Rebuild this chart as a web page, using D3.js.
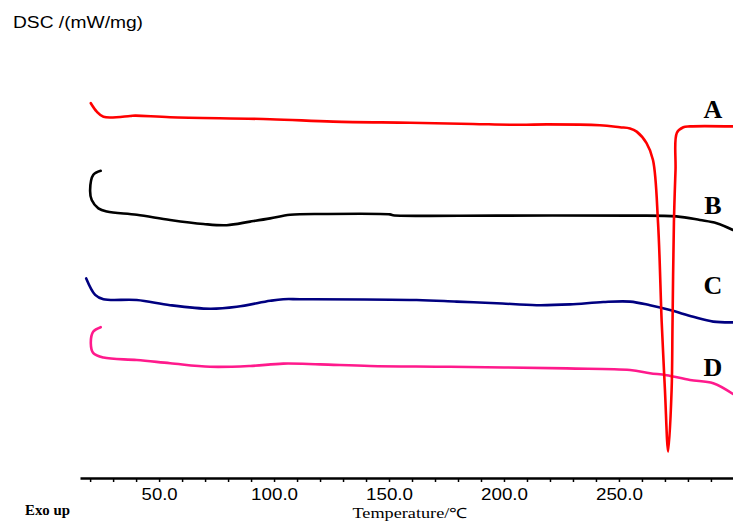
<!DOCTYPE html>
<html lang="en">

<head>
  <meta charset="UTF-8">
  <title>DSC</title>
  <style>
    body { margin: 0; background: #fff; }
  </style>
</head>

<body>

  <script src="https://cdn.jsdelivr.net/npm/d3@7/dist/d3.min.js"></script>
  <script>

    let width = 733
    let height = 521

    // temperature (°C) and heat flow (arbitrary offset units)
    let tempA = [20.3, 22.9, 25.8, 37.4, 39.6, 54.8, 98.3, 125.7, 159.1, 186.5, 207, 218.7, 241.7, 250.4, 254.8, 257.7, 262, 264.8, 267, 268.6, 270, 271.4, 272.9, 273.3, 273.9, 274.6, 275.2, 278, 280.9, 299.6]
    let dscA = [9.42, 9.21, 9.08, 9.10, 9.11, 9.07, 9.02, 8.96, 8.93, 8.90, 8.88, 8.89, 8.87, 8.82, 8.79, 8.71, 8.42, 8.0, 6.43, 3.93, 2.25, 0.71, 2.25, 3.93, 6.43, 7.75, 8.68, 8.82, 8.84, 8.84]

    let tempB = [24.6, 21.4, 20, 20.7, 23.6, 27.3, 40.3, 54.8, 69.3, 79.4, 89.6, 98.3, 107, 121.4, 150.4, 151.7, 198, 254.8, 275, 285.2, 292.5, 299.6]
    let dscB = [7.73, 7.63, 7.25, 7.0, 6.79, 6.71, 6.63, 6.5, 6.4, 6.37, 6.46, 6.54, 6.63, 6.65, 6.64, 6.62, 6.61, 6.61, 6.59, 6.5, 6.42, 6.25]

    let tempC = [18.3, 22.2, 25.8, 40.3, 54.8, 72.2, 83.8, 98.3, 104, 111.3, 162, 179.4, 196.8, 214.2, 228.7, 243.2, 254.8, 263.5, 272.2, 282.3, 291, 299.6]
    let dscC = [5.04, 4.63, 4.52, 4.5, 4.37, 4.28, 4.33, 4.48, 4.52, 4.52, 4.5, 4.46, 4.42, 4.37, 4.39, 4.45, 4.46, 4.37, 4.25, 4.08, 3.96, 3.94]

    let tempD = [24.6, 21.4, 20.3, 21.4, 25.8, 40.3, 54.8, 72.2, 89.6, 104, 120, 141.7, 176.5, 227.3, 254.8, 263.5, 270.7, 280.9, 291, 299.6]
    let dscD = [3.82, 3.71, 3.42, 3.17, 3.06, 3.0, 2.92, 2.83, 2.85, 2.91, 2.89, 2.85, 2.83, 2.79, 2.75, 2.67, 2.62, 2.5, 2.42, 2.15]

    let seriesNames = ['D', 'C', 'B', 'A']
    let seriesColors = ['#ff1a8c', '#000080', '#000000', '#ff0000']
    let seriesTemps = [tempD, tempC, tempB, tempA]
    let seriesDsc = [dscD, dscC, dscB, dscA]

    let tickValues = d3.range(20, 300, 10)

    let x = d3.scaleLinear()
      .domain([15.6, 299.6])
      .range([80, 733])

    let y = d3.scaleLinear()
      .domain([0, 11])
      .range([480, 40])

    let svg = d3.select('body')
      .append('svg')
      .attr('width', width)
      .attr('height', height)

    let line = d3.line()
      .x(d => x(d[0]))
      .y(d => y(d[1]))
      .curve(d3.curveCatmullRom.alpha(0.5))

    seriesNames.forEach((name, i) => {
      let pts = seriesTemps[i].map((t, j) => [t, seriesDsc[i][j]])
      svg.append('path')
        .datum(pts)
        .attr('d', line)
        .attr('fill', 'none')
        .attr('stroke', seriesColors[i])
        .attr('stroke-width', 2.6)
        .attr('stroke-linejoin', 'round')
        .attr('stroke-linecap', 'round')
    })

    // curve labels at the right end
    let labelY = { A: 118, B: 214, C: 294, D: 376 }
    seriesNames.forEach(name => {
      svg.append('text')
        .attr('x', 713)
        .attr('y', labelY[name])
        .attr('text-anchor', 'middle')
        .attr('font-family', 'Liberation Serif, Times New Roman, serif')
        .attr('font-weight', 'bold')
        .attr('font-size', 26)
        .text(name)
    })

    let axis = d3.axisBottom(x)
      .tickValues(tickValues)
      .tickSize(4)
      .tickSizeOuter(0)
      .tickFormat(d => d % 50 === 0 ? d3.format('.1f')(d) : '')

    let g = svg.append('g')
      .attr('transform', 'translate(0,478)')
      .call(axis)

    g.select('.domain')
      .attr('stroke-width', 2.5)
    g.selectAll('.tick line')
      .attr('stroke-width', 1.5)
    g.selectAll('.tick text')
      .attr('y', 11)
      .attr('font-family', 'Liberation Sans, Arial, sans-serif')
      .attr('font-size', 16)
      .attr('fill', '#000')
      .attr('textLength', d => d >= 100 ? 47 : 36)
      .attr('lengthAdjust', 'spacingAndGlyphs')

    svg.append('text')
      .attr('x', 13)
      .attr('y', 28)
      .attr('font-family', 'Liberation Sans, Arial, sans-serif')
      .attr('font-size', 16)
      .attr('textLength', 130)
      .attr('lengthAdjust', 'spacingAndGlyphs')
      .text('DSC /(mW/mg)')

    svg.append('text')
      .attr('x', 25)
      .attr('y', 515)
      .attr('font-family', 'Liberation Serif, Times New Roman, serif')
      .attr('font-weight', 'bold')
      .attr('font-size', 15)
      .attr('textLength', 45)
      .attr('lengthAdjust', 'spacingAndGlyphs')
      .text('Exo up')

    svg.append('text')
      .attr('x', 410)
      .attr('y', 518)
      .attr('text-anchor', 'middle')
      .attr('font-family', 'Liberation Serif, Times New Roman, serif')
      .attr('font-size', 14)
      .attr('textLength', 115)
      .attr('lengthAdjust', 'spacingAndGlyphs')
      .text('Temperature/℃')
  </script>
</body>

</html>
